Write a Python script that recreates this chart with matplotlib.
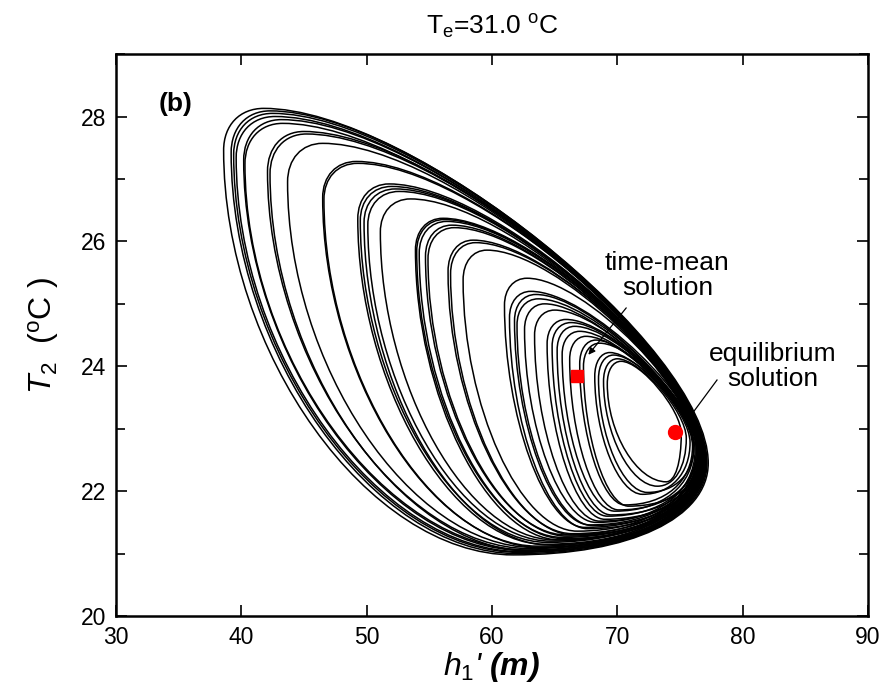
import matplotlib
matplotlib.use("Agg")
import matplotlib.pyplot as plt
from matplotlib.path import Path
from matplotlib.patches import PathPatch
from matplotlib.ticker import MultipleLocator

plt.rcParams['font.family'] = ['Liberation Sans', 'DejaVu Sans']
plt.rcParams['mathtext.fontset'] = 'custom'
plt.rcParams['mathtext.rm'] = 'Liberation Sans'
plt.rcParams['mathtext.it'] = 'Liberation Sans:italic'
plt.rcParams['mathtext.bf'] = 'Liberation Sans:bold'
plt.rcParams['mathtext.bfit'] = 'Liberation Sans:italic:bold'

# extreme points of each loop of the trajectory (outer -> inner)
# leftmost point
loop_xl = [38.6, 39.2, 39.4, 39.6, 40.2, 40.3, 42.1, 42.3, 43.7, 46.5, 46.6, 49.3, 49.5, 49.8,
           50.1, 51.1, 53.9, 54.0, 54.2, 54.7, 54.9, 56.5, 56.7, 57.7, 61.0, 61.4, 61.8, 62.0,
           62.6, 63.4, 64.4, 64.8, 65.2, 65.6, 66.2, 67.0, 67.3, 68.2, 68.5, 68.9, 69.2]
loop_yl = [27.46, 27.42, 27.39, 27.34, 27.30, 27.24, 27.12, 27.08, 26.95, 26.70, 26.67, 26.36,
           26.33, 26.30, 26.26, 26.15, 25.86, 25.84, 25.81, 25.76, 25.72, 25.52, 25.48, 25.38,
           24.98, 24.78, 24.73, 24.66, 24.59, 24.50, 24.36, 24.32, 24.26, 24.19, 24.11, 24.04,
           24.00, 23.84, 23.80, 23.76, 23.72]
# topmost point
loop_xt = [41.8, 42.3, 42.5, 42.7, 43.2, 43.3, 45.0, 45.2, 46.5, 49.2, 49.3, 51.8, 52.0, 52.3,
           52.6, 53.5, 56.1, 56.2, 56.4, 56.8, 57.0, 58.5, 58.7, 59.6, 62.8, 63.1, 63.5, 63.7,
           64.2, 65.0, 65.9, 66.3, 66.6, 67.0, 67.5, 68.3, 68.6, 69.4, 69.7, 70.0, 70.3]
loop_yt = [28.13, 28.09, 28.05, 28.00, 27.95, 27.89, 27.76, 27.72, 27.57, 27.28, 27.25, 26.92,
           26.88, 26.84, 26.80, 26.68, 26.37, 26.35, 26.32, 26.26, 26.22, 26.02, 25.98, 25.86,
           25.41, 25.20, 25.15, 25.08, 25.00, 24.90, 24.75, 24.70, 24.64, 24.56, 24.48, 24.42,
           24.37, 24.22, 24.18, 24.12, 24.08]
# rightmost point
loop_xr = [77.25, 77.15, 77.05, 77.0, 76.9, 76.95, 76.8, 77.1, 76.9, 76.7, 77.0, 76.8, 76.6,
           76.9, 76.7, 76.5, 76.8, 76.6, 76.9, 76.4, 76.7, 76.5, 76.8, 76.3, 76.6, 76.9, 76.4,
           76.7, 76.2, 76.5, 76.8, 76.3, 76.6, 76.1, 76.4, 76.0, 76.7, 75.8, 76.1, 75.5, 75.1]
loop_yr = [22.45, 22.45, 22.48, 22.50, 22.50, 22.52, 22.52, 22.48, 22.50, 22.55, 22.50, 22.55,
           22.58, 22.52, 22.56, 22.60, 22.55, 22.60, 22.52, 22.62, 22.56, 22.60, 22.55, 22.65,
           22.60, 22.55, 22.62, 22.58, 22.66, 22.62, 22.58, 22.66, 22.60, 22.70, 22.65, 22.72,
           22.60, 22.78, 22.72, 22.85, 22.92]
# bottommost point
loop_xb = [61.7, 62.0, 62.2, 62.4, 62.6, 62.8, 63.0, 63.1, 63.3, 63.6, 63.8, 64.2, 64.4, 64.5,
           64.7, 65.0, 65.4, 65.6, 65.7, 65.9, 66.0, 66.4, 66.5, 66.8, 67.4, 67.6, 67.8, 68.0,
           68.3, 68.6, 69.0, 69.2, 69.5, 69.8, 70.1, 70.6, 70.9, 72.0, 72.4, 73.2, 73.9]
loop_yb = [20.98, 21.00, 21.02, 21.03, 21.05, 21.06, 21.08, 21.04, 21.10, 21.12, 21.10, 21.15,
           21.18, 21.14, 21.20, 21.22, 21.22, 21.26, 21.24, 21.30, 21.28, 21.32, 21.30, 21.36,
           21.42, 21.40, 21.46, 21.45, 21.50, 21.52, 21.55, 21.60, 21.62, 21.68, 21.70, 21.78,
           21.76, 21.95, 21.98, 22.08, 22.15]

time_mean = (66.8, 23.84)
equilibrium = (74.6, 22.95)

# bezier handle fractions for the four quarters of a loop
K_LT, K_TR, K_RB, K_BL = 0.6, 0.33, 0.6, 0.5


def loop_path(xl, yl, xt, yt, xr, yr, xb, yb):
    verts = [(xl, yl),
             (xl, yl + K_LT * (yt - yl)), (xt - K_LT * (xt - xl), yt), (xt, yt),
             (xt + K_TR * (xr - xt), yt), (xr, yr + K_TR * (yt - yr)), (xr, yr),
             (xr, yr - K_RB * (yr - yb)), (xb + K_RB * (xr - xb), yb), (xb, yb),
             (xb - K_BL * (xb - xl), yb), (xl, yl - K_BL * (yl - yb)), (xl, yl)]
    codes = [Path.MOVETO] + [Path.CURVE4] * 12
    return Path(verts, codes)


fig = plt.figure(figsize=(8.84, 6.93), dpi=100)
ax = fig.add_axes([0.131, 0.111, 0.851, 0.811])

for i in range(len(loop_xl)):
    p = loop_path(loop_xl[i], loop_yl[i], loop_xt[i], loop_yt[i],
                  loop_xr[i], loop_yr[i], loop_xb[i], loop_yb[i])
    ax.add_patch(PathPatch(p, facecolor='none', edgecolor='black', lw=1.1))

ax.plot(*time_mean, marker='s', color='red', markersize=8.5, ls='none', zorder=5)
ax.plot(*equilibrium, marker='o', color='red', markersize=10, ls='none', zorder=5)

ax.annotate('', xy=(67.55, 24.15), xytext=(70.85, 24.97),
            arrowprops=dict(arrowstyle='-|>', color='black', lw=0.9, mutation_scale=10))
ax.plot([77.95, 76.0], [23.78, 23.25], color='black', lw=0.9)
ax.text(74.0, 25.45, 'time-mean\nsolution', ha='center', va='center', ma='center',
        fontsize=19, linespacing=1.05)
ax.text(82.4, 23.99, 'equilibrium\nsolution', ha='center', va='center', ma='center',
        fontsize=19, linespacing=1.05)
ax.text(34.8, 28.2, '(b)', ha='center', va='center', fontsize=19, fontweight='bold')

ax.set_xlim(30, 90)
ax.set_ylim(20, 29)
ax.xaxis.set_major_locator(MultipleLocator(10))
ax.yaxis.set_major_locator(MultipleLocator(2))
ax.yaxis.set_minor_locator(MultipleLocator(1))
ax.tick_params(which='both', direction='in', top=True, right=True, width=1.2, labelsize=16.5)
ax.tick_params(which='major', length=8, pad=7)
ax.tick_params(which='minor', length=6.5)
for s in ax.spines.values():
    s.set_linewidth(1.8)

ax.set_title(r'T$_\mathregular{e}$=31.0 $^\mathregular{o}$C', fontsize=19, pad=14)
ax.set_xlabel(r"$\mathit{h}_\mathit{1}$'$\ \mathbfit{(m)}$", fontsize=23, fontstyle='italic', labelpad=1)
ax.set_ylabel(r'$\mathit{T}_\mathregular{2}$  ($^\mathregular{o}$C )', fontsize=23, labelpad=14)

plt.savefig('out.png', dpi=100)
